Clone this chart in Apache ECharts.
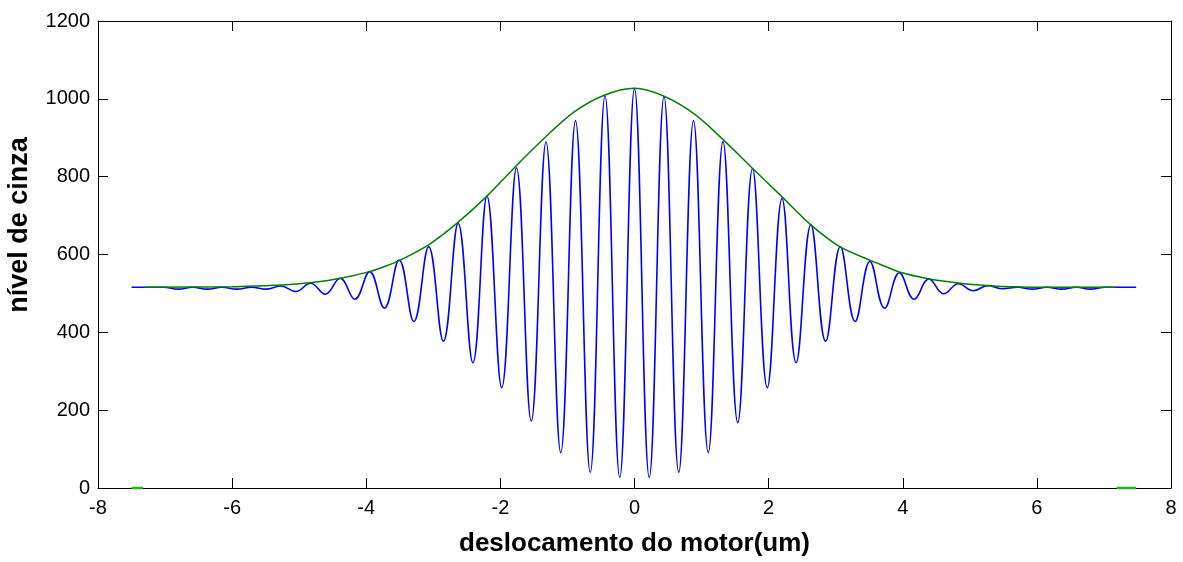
<!DOCTYPE html>
<html>
<head>
<meta charset="utf-8">
<script src="https://cdn.jsdelivr.net/npm/echarts@6/dist/echarts.min.js"></script>
<style>
html,body{margin:0;padding:0;background:#fff;}
#chart{width:1183px;height:562px;}
</style>
</head>
<body>
<div id="chart"></div>
<script>
// x ticks / y ticks
const xTicks = [-8, -6, -4, -2, 0, 2, 4, 6, 8];
const yTicks = [0, 200, 400, 600, 800, 1000, 1200];

// blue interferogram signal: extremes
const signalX = [-7.50,
  -7.02, -6.80, -6.59, -6.37, -6.15, -5.93, -5.71, -5.49, -5.27, -5.05, -4.83, -4.61, -4.39, -4.17, -3.95, -3.73,
  -3.51, -3.29, -3.07, -2.85, -2.63, -2.41, -2.20, -1.98, -1.76, -1.54, -1.32, -1.10, -0.88, -0.66, -0.44, -0.22,
  0,
  0.22, 0.44, 0.66, 0.88, 1.10, 1.32, 1.54, 1.76, 1.98, 2.20, 2.41, 2.63, 2.85, 3.07, 3.29, 3.51,
  3.73, 3.95, 4.17, 4.39, 4.61, 4.83, 5.05, 5.27, 5.49, 5.71, 5.93, 6.15, 6.37, 6.59, 6.80, 7.02,
  7.48];
const signalY = [516,
  516, 511, 516, 511, 516, 511, 516, 511, 519, 505, 526, 498, 539, 485, 556, 462,
  586, 428, 620, 377, 680, 322, 750, 258, 823, 172, 889, 91, 944, 40, 1008, 27,
  1027,
  27, 1006, 40, 944, 91, 890, 168, 821, 258, 744, 322, 676, 377, 620, 428, 582,
  462, 553, 485, 537, 499, 525, 507, 520, 512, 516, 511, 516, 511, 516, 511, 516,
  516];

// green envelope
const envX = [-7.30, -6.00, -5.54, -5.14, -4.81, -4.38, -3.95, -3.65, -3.50, -3.07, -2.65, -2.20, -1.77, -1.37,
  -0.91, -0.47, 0, 0.45, 0.90, 1.31, 1.75, 2.20, 2.63, 3.06, 3.50, 3.66, 3.95, 4.40, 4.83, 5.10, 5.48, 6.00, 7.17];
const envY = [516, 517, 520, 523, 528, 539, 556, 574, 585, 625, 680, 750, 827, 895,
  965, 1008, 1027, 1006, 960, 897, 823, 748, 676, 620, 586, 575, 555, 537, 527, 522, 518, 516, 516];

// short green marks lying on the zero line at both ends
const zeroLeftX = [-7.50, -7.33];
const zeroRightX = [7.19, 7.48];
const zeroY = [0, 0];

const xTitle = 'deslocamento do motor(um)';
const yTitle = 'nível de cinza';

const pairs = (xs, ys) => xs.map((x, i) => [x, ys[i]]);

const chart = echarts.init(document.getElementById('chart'), null, {renderer: 'canvas'});
const FONT = '"Liberation Sans", Arial, sans-serif';
const plain = v => String(v);
const axisCommon = {
  axisLine: {show: true, onZero: false, lineStyle: {color: '#000', width: 1}},
  axisTick: {show: true, inside: true, length: 10, lineStyle: {color: '#000', width: 1}},
  splitLine: {show: false}
};
chart.setOption({
  animation: false,
  backgroundColor: '#fff',
  grid: {left: 98, right: 12, top: 21, bottom: 73, containLabel: false},
  graphic: [{
    type: 'text', x: 20, y: 225, rotation: Math.PI / 2, z: 10,
    style: {
      text: yTitle, font: 'bold 27px "Liberation Sans", Arial, sans-serif', fill: '#000',
      textAlign: 'center', align: 'center', textVerticalAlign: 'middle', verticalAlign: 'middle'
    }
  }],
  xAxis: [
    Object.assign({
      type: 'value', position: 'bottom', min: xTicks[0], max: xTicks[xTicks.length - 1], interval: 2,
      axisLabel: {color: '#000', fontFamily: FONT, fontSize: 20, margin: 10, formatter: plain},
      name: xTitle, nameLocation: 'middle', nameGap: 43,
      nameTextStyle: {color: '#000', fontFamily: FONT, fontSize: 26, fontWeight: 'bold'}
    }, axisCommon),
    Object.assign({
      type: 'value', position: 'top', min: xTicks[0], max: xTicks[xTicks.length - 1], interval: 2,
      axisLabel: {show: false}
    }, axisCommon)
  ],
  yAxis: [
    Object.assign({
      type: 'value', position: 'left', min: yTicks[0], max: yTicks[yTicks.length - 1], interval: 200,
      axisLabel: {color: '#000', fontFamily: FONT, fontSize: 20, margin: 8, formatter: plain}
    }, axisCommon),
    Object.assign({
      type: 'value', position: 'right', min: yTicks[0], max: yTicks[yTicks.length - 1], interval: 200,
      axisLabel: {show: false}
    }, axisCommon)
  ],
  series: [
    {
      type: 'line', xAxisIndex: 0, yAxisIndex: 0, data: pairs(signalX, signalY),
      showSymbol: false, smooth: 0.42, lineStyle: {color: '#0000ff', width: 1.6}, z: 3
    },
    {
      type: 'line', xAxisIndex: 0, yAxisIndex: 0, data: pairs(envX, envY),
      showSymbol: false, smooth: 0.3, lineStyle: {color: '#008000', width: 1.5}, z: 4
    },
    {
      type: 'line', xAxisIndex: 0, yAxisIndex: 0, data: pairs(zeroLeftX, zeroY), clip: false,
      showSymbol: false, lineStyle: {color: '#22b022', width: 2.5}, z: 5
    },
    {
      type: 'line', xAxisIndex: 0, yAxisIndex: 0, data: pairs(zeroRightX, zeroY), clip: false,
      showSymbol: false, lineStyle: {color: '#22b022', width: 2.5}, z: 5
    }
  ]
});
</script>
</body>
</html>
